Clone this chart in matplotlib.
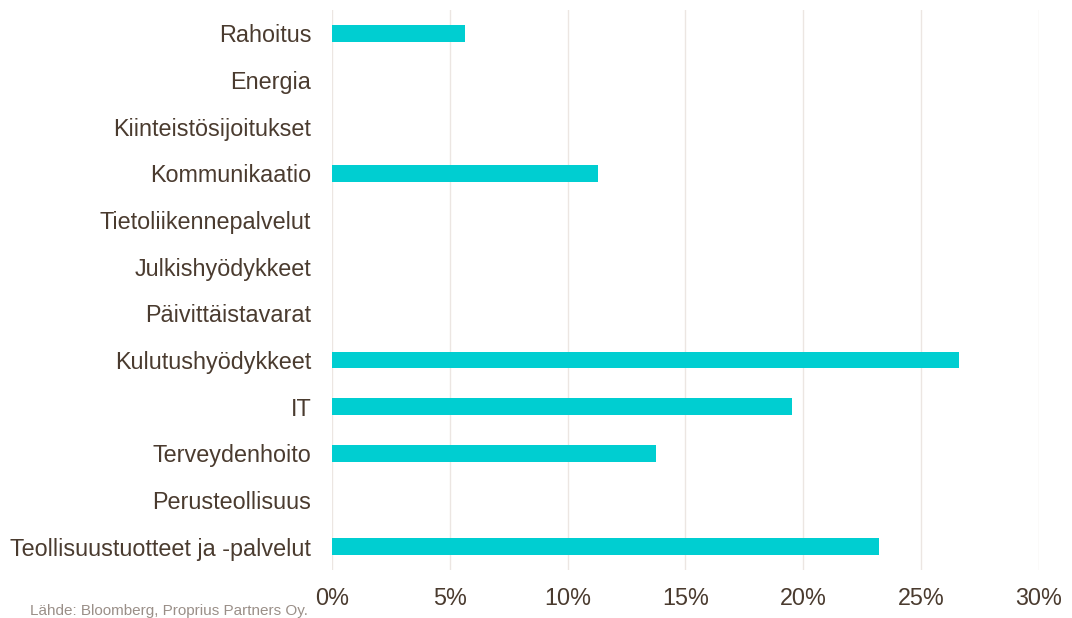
import matplotlib.pyplot as plt
from matplotlib.ticker import PercentFormatter

# sector weights, top to bottom as in the chart
sectors = ["Rahoitus", "Energia", "Kiinteistösijoitukset", "Kommunikaatio",
           "Tietoliikennepalvelut", "Julkishyödykkeet", "Päivittäistavarat",
           "Kulutushyödykkeet", "IT", "Terveydenhoito", "Perusteollisuus",
           "Teollisuustuotteet ja -palvelut"]
weights = [0.0564, 0.0, 0.0, 0.1129, 0.0, 0.0, 0.0, 0.266, 0.195, 0.1375, 0.0, 0.232]
xticks = [0, 0.05, 0.10, 0.15, 0.20, 0.25, 0.30]

text_col = "#4a3b2f"
plt.rcParams["font.family"] = ["Liberation Sans", "DejaVu Sans"]

fig = plt.figure(figsize=(10.72, 6.18), dpi=100)
ax = fig.add_axes([0.3097, 0.0777, 0.6595, 0.9063])

pos = list(range(len(sectors)))[::-1]
ax.barh(pos, weights, height=0.36, color="#00ced1", zorder=3)

ax.set_xlim(0, 0.30)
ax.set_ylim(-0.5, len(sectors) - 0.5)
ax.set_xticks(xticks)
ax.xaxis.set_major_formatter(PercentFormatter(1.0, decimals=0))
ax.set_yticks(pos)
ax.set_yticklabels(sectors)
ax.tick_params(axis="both", length=0, labelsize=16.8, colors=text_col)
ax.tick_params(axis="x", pad=12)
ax.tick_params(axis="y", pad=15)
ax.grid(axis="x", color="#ece6e2", linewidth=1.0, zorder=0)
for s in ax.spines.values():
    s.set_visible(False)

fig.text(0.028, 0.0, "Lähde: Bloomberg, Proprius Partners Oy.", fontsize=11,
         color="#9a8f88", ha="left", va="bottom")

fig.savefig("out.png", dpi=100)
